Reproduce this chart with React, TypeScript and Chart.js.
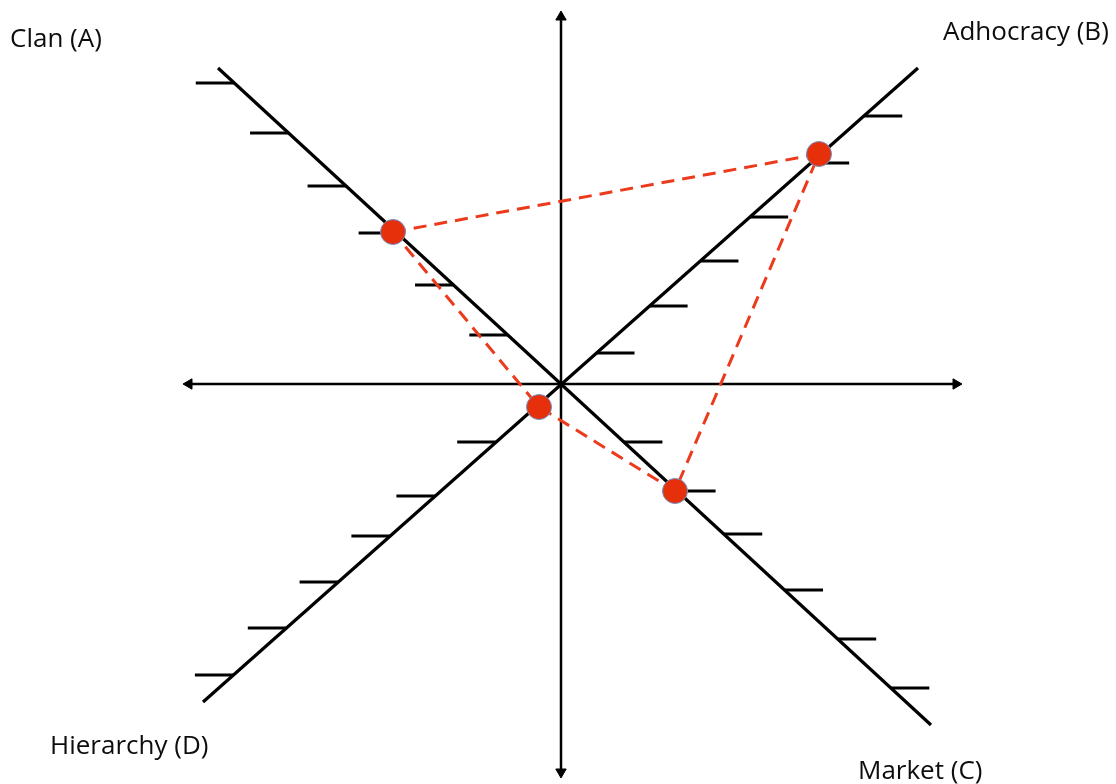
import React, { useEffect, useRef } from "react";
import { Chart, registerables } from "chart.js";

Chart.register(...registerables);

// Units: one unit ~ one tick step; origin at the centre of the framework
const armNames = ["Clan (A)", "Adhocracy (B)", "Market (C)", "Hierarchy (D)"];
const armEndX = [-6.86, 7.14, 7.4, -7.16];
const armEndY = [6.32, 6.32, -6.82, -6.36];
const tickSide = [-1, 1, 1, -1];
const clanTicks = [0.98, 1.98, 3.02, 3.96, 5.02, 6.02];
const adhocracyTicks = [0.62, 1.56, 2.46, 3.34, 4.42, 5.36];
const marketTicks = [-1.16, -2.14, -3.0, -4.12, -5.1, -6.08];
const hierarchyTicks = [-1.16, -2.24, -3.04, -3.96, -4.88, -5.82];
const armTicks = [clanTicks, adhocracyTicks, marketTicks, hierarchyTicks];
const tickLength = 0.77;

// Profile scores: A, B, C, D
const scoreX = [-3.36, 5.16, 2.28, -0.44];
const scoreY = [3.04, 4.6, -2.14, -0.46];

// Axes
const hAxisX = [-7.44, 7.9];
const vAxisY = [7.34, -7.76];

// Label anchors
const labelX = [-11.02, 7.64, 5.94, -10.22];
const labelY = [6.88, 7.02, -7.76, -7.26];

const X_MIN = -11.22, X_MAX = 11.1, Y_MIN = -8.0, Y_MAX = 7.68;

const labelPlugin = {
  id: "cornerLabels",
  afterDatasetsDraw(chart: any) {
    const ctx = chart.ctx;
    const xs = chart.scales.x, ys = chart.scales.y;
    ctx.save();
    ctx.fillStyle = "#0d0d0d";
    ctx.font = "500 26px 'Open Sans', sans-serif";
    ctx.textBaseline = "middle";
    ctx.textAlign = "left";
    armNames.forEach((n, i) => {
      ctx.fillText(n, xs.getPixelForValue(labelX[i]), ys.getPixelForValue(labelY[i]));
    });
    ctx.restore();
  },
};

export default function App() {
  const ref = useRef<HTMLCanvasElement | null>(null);
  useEffect(() => {
    document.body.style.margin = "0";
    const datasets: any[] = [];
    datasets.push({
      label: "scores",
      data: scoreX.map((x, i) => ({ x, y: scoreY[i] })),
      showLine: false,
      pointRadius: 12.5,
      pointBackgroundColor: "#e6300b",
      pointBorderColor: "#7490c4",
      pointBorderWidth: 1,
      order: 0,
      clip: false,
    });
    const poly = scoreX.map((x, i) => ({ x, y: scoreY[i] }));
    poly.push({ x: scoreX[0], y: scoreY[0] });
    datasets.push({
      label: "profile",
      data: poly,
      showLine: true,
      borderColor: "#ec3a1d",
      borderWidth: 3,
      borderDash: [13, 8],
      pointRadius: 0,
      order: 1,
      clip: false,
    });
    datasets.push({
      label: "arm AC",
      data: [{ x: armEndX[0], y: armEndY[0] }, { x: armEndX[2], y: armEndY[2] }],
      showLine: true, borderColor: "#000", borderWidth: 3.2, pointRadius: 0, order: 2,
    });
    datasets.push({
      label: "arm BD",
      data: [{ x: armEndX[1], y: armEndY[1] }, { x: armEndX[3], y: armEndY[3] }],
      showLine: true, borderColor: "#000", borderWidth: 3.2, pointRadius: 0, order: 2,
    });
    armTicks.forEach((ticks, a) => {
      ticks.forEach((t) => {
        const px = (armEndX[a] * t) / armEndY[a];
        datasets.push({
          label: "tick",
          data: [{ x: px, y: t }, { x: px + tickSide[a] * tickLength, y: t }],
          showLine: true, borderColor: "#000", borderWidth: 3.2, pointRadius: 0, order: 2,
        });
      });
    });
    datasets.push({
      label: "h axis",
      data: hAxisX.map((x) => ({ x, y: 0 })),
      showLine: true, borderColor: "#000", borderWidth: 2.5,
      pointStyle: "triangle", pointRadius: 6, pointRotation: [270, 90],
      pointBackgroundColor: "#000", pointBorderColor: "#000", pointBorderWidth: 1,
      order: 3, clip: false,
    });
    datasets.push({
      label: "v axis",
      data: vAxisY.map((y) => ({ x: 0, y })),
      showLine: true, borderColor: "#000", borderWidth: 2.5,
      pointStyle: "triangle", pointRadius: 6, pointRotation: [0, 180],
      pointBackgroundColor: "#000", pointBorderColor: "#000", pointBorderWidth: 1,
      order: 3, clip: false,
    });

    const chart = new Chart(ref.current as HTMLCanvasElement, {
      type: "scatter",
      data: { datasets },
      options: {
        animation: false,
        responsive: false,
        maintainAspectRatio: false,
        devicePixelRatio: 1,
        layout: { padding: 0, autoPadding: false },
        plugins: { legend: { display: false }, tooltip: { enabled: false } },
        events: [],
        scales: {
          x: { type: "linear", min: X_MIN, max: X_MAX, display: false },
          y: { type: "linear", min: Y_MIN, max: Y_MAX, display: false },
        },
      },
      plugins: [labelPlugin],
    });
    return () => chart.destroy();
  }, []);
  return (
    <canvas ref={ref} width={1116} height={784} style={{ display: "block", background: "#fff" }} />
  );
}
